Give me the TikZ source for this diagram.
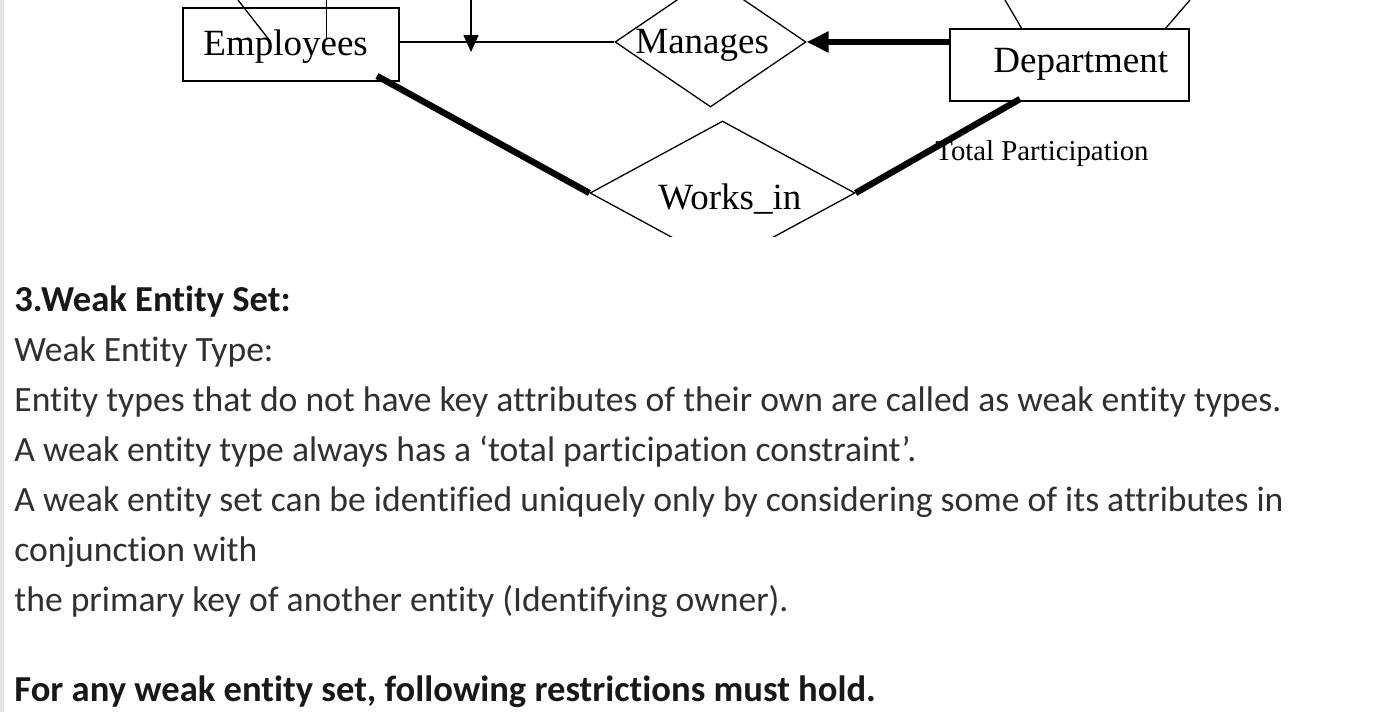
\documentclass[tikz,border=0pt]{standalone}
\usepackage{fontspec}
\setmainfont{Carlito}[Ligatures=NoCommon]
\newfontfamily\erfont{Liberation Serif}
\usetikzlibrary{shapes.geometric,arrows.meta}
\definecolor{bodytext}{HTML}{303030}
\definecolor{boldtext}{HTML}{181818}
\definecolor{barcol}{HTML}{E4E4E4}
\begin{document}
\begin{tikzpicture}[x=0.5pt,y=-0.5pt,
  erline/.style={line width=0.65pt, draw=black},
  thickline/.style={line width=3.2pt, draw=black},
  entbox/.style={rectangle, draw=black, line width=0.65pt, inner sep=0pt},
  relbox/.style={diamond, aspect=1, draw=black, line width=0.65pt, inner sep=0pt},
  erlabel/.style={inner sep=0pt, anchor=base west, font=\erfont\fontsize{18.5pt}{20pt}\selectfont},
  smalllabel/.style={inner sep=0pt, anchor=base west, font=\erfont\fontsize{14.4pt}{16pt}\selectfont},
  bodyline/.style={inner sep=0pt, anchor=base west, text=bodytext, font=\fontsize{17.8pt}{21pt}\selectfont},
  boldline/.style={inner sep=0pt, anchor=base west, text=boldtext, font=\bfseries\fontsize{18.3pt}{21pt}\selectfont}
]
\useasboundingbox (0,0) rectangle (1382,712);
\fill[white] (0,0) rectangle (1382,712);
\fill[barcol] (0,0) rectangle (4,712);

\begin{scope}
\clip (4,0) rectangle (1382,236);
% entities and relationships
\node[entbox, minimum width=108pt, minimum height=36.5pt] (emp) at (291,44.5) {};
\node[entbox, minimum width=119.5pt, minimum height=36pt] (dept) at (1069.5,65) {};
\node[relbox, minimum width=95.5pt, minimum height=65pt] (man) at (710.5,42) {};
\node[relbox, minimum width=132.5pt, minimum height=72pt] (wi) at (722.5,193) {};
% labels
\node[erlabel] (empl) at (203,55) {Employees};
\node[erlabel] (deptl) at (993,72) {Department};
\node[erlabel] (manl) at (635,54) {Manages};
\node[erlabel] (wil) at (658,209) {Works\_in};
\node[smalllabel] (tp) at (935,160) {Total Participation};
% free ends of cropped connectors
\coordinate (e1top) at (238,0);
\coordinate (e1end) at (270,41);
\coordinate (e2top) at (326.5,0);
\coordinate (e2end) at (326.5,39);
\coordinate (arrtop) at (471,0);
\coordinate (arrend) at (471,52);
\coordinate (d1top) at (1005,0);
\coordinate (d1end) at (1022,29);
\coordinate (d2top) at (1190,0);
\coordinate (d2end) at (1165,29);
\coordinate (empc) at (377,76);
\coordinate (deptc) at (1020,99);
% connectors
\draw[erline] (e1top) -- (e1end);
\draw[erline] (e2top) -- (e2end);
\draw[erline] (d1top) -- (d1end);
\draw[erline] (d2top) -- (d2end);
\draw[erline] (emp.east |- man.west) -- (man.west);
\draw[erline, -{Triangle[length=8.5pt,width=7.5pt]}] (arrtop) -- (arrend);
\draw[thickline, -{Triangle[length=11pt,width=10pt]}] (man.east -| dept.west) -- (man.east);
\draw[thickline] (empc) -- (wi.west);
\draw[thickline] (deptc) -- (wi.east);
\end{scope}

% text
\node[boldline] (t1) at (14,311) {3.Weak Entity Set:};
\node[bodyline] (t2) at (14,361) {Weak Entity Type:};
\node[bodyline] (t3) at (14,411) {Entity types that do not have key attributes of their own are called as weak entity types.};
\node[bodyline] (t4) at (14,461) {A weak entity type always has a ‘total participation constraint’.};
\node[bodyline] (t5) at (14,511) {A weak entity set can be identified uniquely only by considering some of its attributes in};
\node[bodyline] (t6) at (14,561) {conjunction with};
\node[bodyline] (t7) at (14,611) {the primary key of another entity (Identifying owner).};
\node[boldline] (t8) at (14,701) {For any weak entity set, following restrictions must hold.};
\end{tikzpicture}
\end{document}
